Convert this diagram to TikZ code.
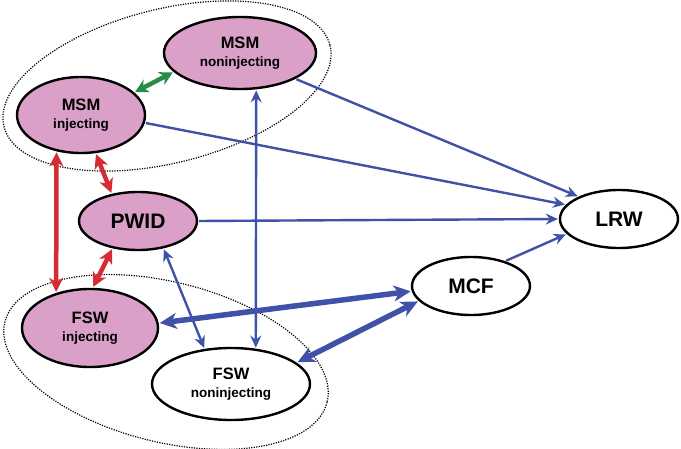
\documentclass[tikz,border=0pt]{standalone}
\usepackage{fontspec}
\setmainfont{Liberation Sans}
\usetikzlibrary{shapes.geometric,arrows.meta}
\definecolor{pinkfill}{RGB}{218,160,200}
\definecolor{linkblue}{RGB}{64,82,168}
\definecolor{linkred}{RGB}{212,44,52}
\definecolor{linkgreen}{RGB}{38,140,72}
\newcommand{\grplabel}[2]{{\fontsize{16.5}{18}\selectfont #1}\\{\fontsize{13.5}{18}\selectfont #2}}
\newcommand{\biglabel}[1]{\fontsize{21}{24}\selectfont #1}

\begin{document}
\begin{tikzpicture}[x=1pt,y=-1pt,
	pop/.style={ellipse,draw,line width=2.4pt,inner sep=0pt,align=center,font=\bfseries\fontsize{16}{18}\selectfont,fill=white},
	risk/.style={pop,fill=pinkfill},
	cluster/.style={line width=1.2pt,dash pattern=on 1.2pt off 1.3pt},
	blueln/.style={linkblue,line width=2.4pt,shorten >=1pt,shorten <=1pt},
	bluetip/.style={blueln,arrows={-Stealth[length=12pt,width=11pt,inset=4pt]}},
	bluetwo/.style={blueln,arrows={Stealth[length=12pt,width=11pt,inset=4pt]-Stealth[length=12pt,width=11pt,inset=4pt]}},
	bluefat/.style={blueln,line width=5.5pt,arrows={Stealth[length=17pt,width=16pt,inset=5pt]-Stealth[length=17pt,width=16pt,inset=5pt]}},
	redtwo/.style={linkred,line width=4.5pt,shorten >=1pt,shorten <=1pt,arrows={Stealth[length=14pt,width=14pt,inset=4pt]-Stealth[length=14pt,width=14pt,inset=4pt]}},
	greentwo/.style={linkgreen,line width=4.5pt,shorten >=1pt,shorten <=1pt,arrows={Stealth[length=13pt,width=14pt,inset=4pt]-Stealth[length=13pt,width=14pt,inset=4pt]}}]
	\useasboundingbox (0,0) rectangle (681,449);
	% groups
	\draw[cluster,rotate around={14:(167,86)}] (167,86) ellipse [x radius=168,y radius=77];
	\draw[cluster,rotate around={-14:(166,362)}] (166,362) ellipse [x radius=166,y radius=80];
	% populations
	\node[risk,minimum width=152,minimum height=72] (MSMn) at (240,53) {\grplabel{MSM}{noninjecting}};
	\node[risk,minimum width=128,minimum height=76] (MSMi) at (81,115) {\grplabel{MSM}{injecting}};
	\node[risk,minimum width=118,minimum height=58] (PWID) at (138,221) {\biglabel{PWID}};
	\node[risk,minimum width=136,minimum height=78] (FSWi) at (90,328) {\grplabel{FSW}{injecting}};
	\node[pop,minimum width=158,minimum height=72] (FSWn) at (231,384) {\grplabel{FSW}{noninjecting}};
	\node[pop,minimum width=118,minimum height=58] (MCF) at (471,286) {\biglabel{MCF}};
	\node[pop,minimum width=118,minimum height=58] (LRW) at (619,219) {\biglabel{LRW}};
	% links
	\draw[greentwo] (MSMi.23) -- (MSMn.196);
	\draw[redtwo] (MSMi.-124) -- (FSWi.134);
	\draw[redtwo] (MSMi.-69) -- (PWID.134);
	\draw[redtwo] (PWID.-133) -- (FSWi.86);
	\draw[bluetip] (MSMn.-25) -- (LRW.151);
	\draw[bluetip] (MSMi.-7.5) -- (LRW.165);
	\draw[bluetip] (PWID.east) -- (LRW.west);
	\draw[bluetip] (MCF.36) -- (LRW.196);
	\draw[bluetwo] (MSMn.-66) -- (FSWn.55);
	\draw[bluetwo] (PWID.-47) -- (FSWn.127);
	\draw[bluefat] (FSWi.4) -- (MCF.185);
	\draw[bluefat] (FSWn.18) -- (MCF.196);
\end{tikzpicture}
\end{document}
